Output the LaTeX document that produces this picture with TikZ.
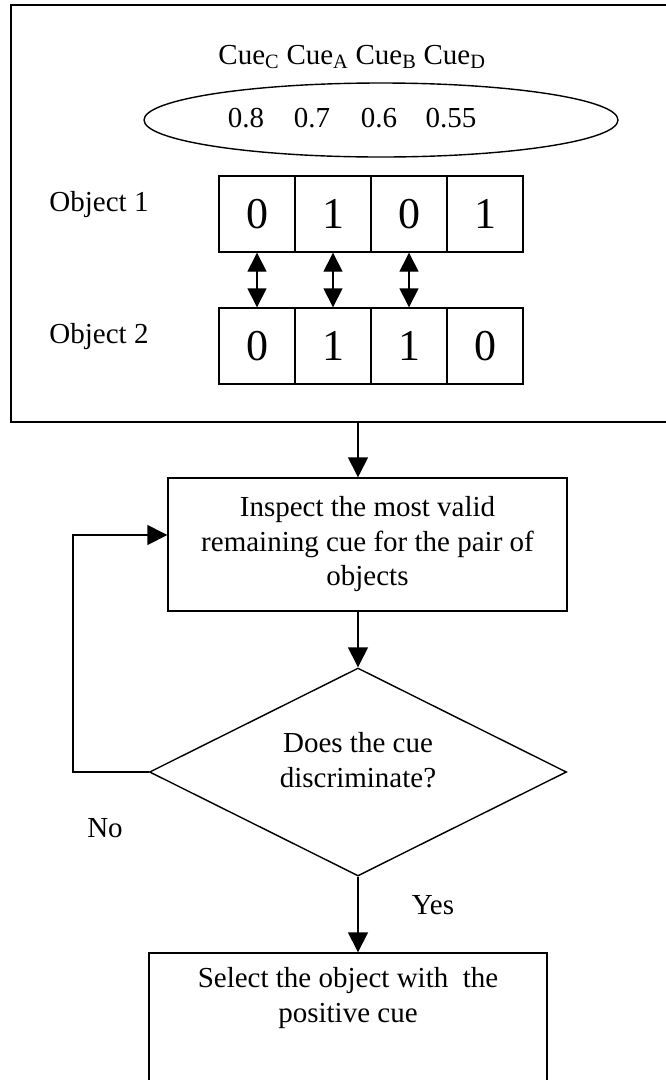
\documentclass[tikz,border=0pt]{standalone}
\usepackage{fontspec}
\setmainfont{Liberation Serif}
\usetikzlibrary{arrows.meta,shapes.geometric}
\begin{document}
\begin{tikzpicture}[x=1pt,y=-1pt, line width=1.4pt,
  every node/.style={font=\fontsize{29}{34.5}\selectfont, inner sep=0pt},
  cell/.style={draw, minimum width=76pt, minimum height=76pt, font=\fontsize{44}{44}\selectfont},
  box/.style={draw},
  arr/.style={-{Triangle[length=20pt,width=20pt]}},
  darr/.style={{Triangle[length=19pt,width=19pt]}-{Triangle[length=19pt,width=19pt]}}]
\useasboundingbox (0,0) rectangle (665,1080);
\node[box, minimum width=656pt, minimum height=417pt] (outer) at (339,213.5) {};
\node (cues) at (352,57) {Cue\textsubscript{C} Cue\textsubscript{A} Cue\textsubscript{B} Cue\textsubscript{D}};
\node[draw, ellipse, minimum width=474pt, minimum height=74pt] (ell) at (381,120) {};
\node (v1) at (246,118) {0.8};
\node (v2) at (312,118) {0.7};
\node (v3) at (379,118) {0.6};
\node (v4) at (451,118) {0.55};
\foreach \v [count=\i] in {0,1,0,1} \node[cell] (a\i) at ({181+76*\i},214) {\v};
\foreach \v [count=\i] in {0,1,1,0} \node[cell] (b\i) at ({181+76*\i},346) {\v};
\foreach \i in {1,2,3} \draw[darr] (a\i.south) -- (b\i.north);
\node (o1) at (99,205) {Object 1};
\node (o2) at (99,337) {Object 2};
\node[box, minimum width=399pt, minimum height=133pt, align=center] (insp) at (367.5,544.5) {Inspect the most valid\\remaining cue for the pair of\\objects};
\node[draw, diamond, minimum width=417pt, minimum height=208pt] (dec) at (358,772) {};
\node[align=center] (dectext) at (358,760) {Does the cue\\discriminate?};
\node[box, minimum width=398pt, minimum height=132pt] (sel) at (348,1019) {};
\node[align=center] (seltext) at (348,998) {Select the object with~~the\\positive cue};
\node (no) at (105,828) {No};
\node (yes) at (433,905) {Yes};
\draw[arr] (dec.north |- outer.south) -- (dec.north |- insp.north);
\draw[arr] (dec.north |- insp.south) -- (dec.north);
\coordinate (lp) at (73,535);
\draw[arr] (dec.west) -| (lp) -- (insp.west |- lp);
\draw[arr] (dec.south) -- (dec.south |- sel.north);
\end{tikzpicture}
\end{document}
